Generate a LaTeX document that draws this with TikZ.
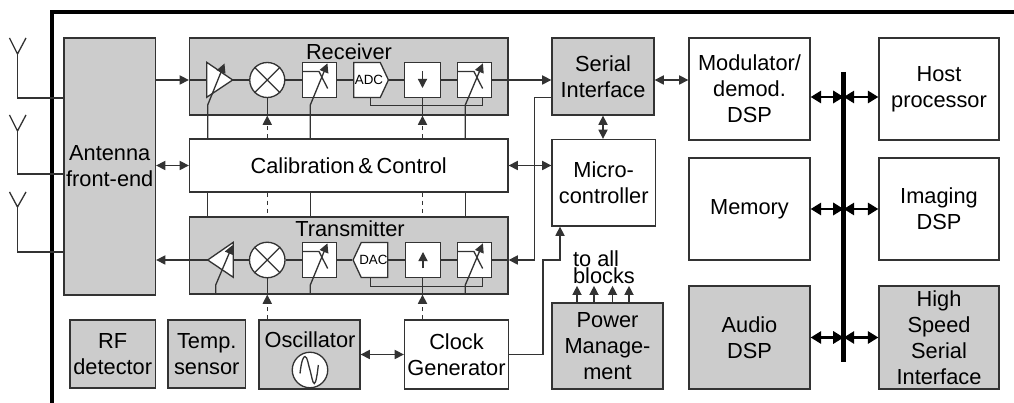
\documentclass[tikz,border=0pt]{standalone}
\usepackage{fontspec}
\setmainfont{Liberation Sans}
\usetikzlibrary{arrows.meta,shapes.symbols}
\definecolor{blockgray}{HTML}{CCCCCC}
\tikzset{
  block/.style={draw=black!80, line width=0.75pt, fill=white, inner sep=0pt, align=center, font=\fontsize{12.4}{14.8}\selectfont},
  grayblock/.style={block, fill=blockgray},
  part/.style={draw=black!80, line width=0.75pt, fill=white, inner sep=0pt},
  adcbox/.style={part, signal, signal pointer angle=130, minimum width=0.694cm, minimum height=0.70cm},
  adctext/.style={inner sep=0pt, font=\fontsize{7.6}{9}\selectfont},
  blocklabel/.style={inner sep=0pt, align=center, font=\fontsize{12.4}{14.8}\selectfont},
  wire/.style={draw=black!80, line width=0.75pt},
  sig/.style={wire, -{Triangle[length=5.2pt,width=5.2pt]}},
  bothsig/.style={wire, {Triangle[length=5.2pt,width=5.2pt]}-{Triangle[length=5.2pt,width=5.2pt]}},
  clkline/.style={wire, dash pattern=on 2.6pt off 2pt},
  busarrow/.style={draw=black, line width=1.3pt, {Triangle[length=6pt,width=7pt]}-{Triangle[length=6pt,width=7pt]}}
}
\begin{document}
\begin{tikzpicture}
  \useasboundingbox (0,0) rectangle (20.28,8.06);
  % chip outline
  \draw[black, line width=1.8pt] (1.04,0) -- (1.04,7.82) -- (20.28,7.82);
  % large blocks
  \node[grayblock, minimum width=1.83cm, minimum height=5.14cm] (ant) at (2.195,4.73) {Antenna\\front-end};
  \node[grayblock, minimum width=6.37cm, minimum height=1.54cm] (rx) at (6.975,6.53) {};
  \node[blocklabel] (rxlabel) at (6.98,7.03) {Receiver};
  \node[block, minimum width=6.37cm, minimum height=1.06cm] (cal) at (6.975,4.75) {Calibration\,\&\,Control};
  \node[grayblock, minimum width=6.37cm, minimum height=1.54cm] (tx) at (6.975,2.95) {};
  \node[blocklabel] (txlabel) at (7.0,3.48) {Transmitter};
  \node[grayblock, minimum width=2.04cm, minimum height=1.54cm] (ser) at (12.06,6.53) {Serial\\Interface};
  \node[block, minimum width=2.07cm, minimum height=1.73cm] (mcu) at (12.075,4.405) {Micro-\\controller};
  \node[block, minimum width=2.42cm, minimum height=2.04cm] (mod) at (14.99,6.28) {Modulator/\\demod.\\DSP};
  \node[block, minimum width=2.42cm, minimum height=2.04cm] (mem) at (14.99,3.88) {Memory};
  \node[grayblock, minimum width=2.42cm, minimum height=2.06cm] (aud) at (14.99,1.31) {Audio\\DSP};
  \node[block, minimum width=2.40cm, minimum height=2.04cm] (host) at (18.78,6.28) {Host\\processor};
  \node[block, minimum width=2.40cm, minimum height=2.04cm] (img) at (18.78,3.88) {Imaging\\DSP};
  \node[grayblock, minimum width=2.40cm, minimum height=2.06cm] (hss) at (18.78,1.31) {High\\Speed\\Serial\\Interface};
  % bottom row
  \node[grayblock, minimum width=1.71cm, minimum height=1.36cm] (rf) at (2.255,0.98) {RF\\detector};
  \node[grayblock, minimum width=1.55cm, minimum height=1.36cm] (tmp) at (4.135,0.98) {Temp.\\sensor};
  \node[grayblock, minimum width=2.02cm, minimum height=1.38cm] (osc) at (6.19,0.97) {};
  \node[blocklabel] (osclabel) at (6.2,1.26) {Oscillator};
  \node[part, circle, minimum size=0.71cm] (sine) at (6.2,0.66) {};
  \begin{scope}[shift={(sine)}]
    \draw[wire] (-0.2,-0.07) .. controls (-0.17,0.2) and (-0.13,0.27) .. (-0.1,0.27) .. controls (-0.05,0.27) and (-0.03,0.08) .. (0,0) .. controls (0.03,-0.1) and (0.05,-0.27) .. (0.087,-0.27) .. controls (0.12,-0.27) and (0.15,-0.05) .. (0.167,0.1);
  \end{scope}
  \node[block, minimum width=2.08cm, minimum height=1.38cm] (clk) at (9.13,0.97) {Clock\\Generator};
  \node[grayblock, minimum width=2.22cm, minimum height=1.72cm] (pwr) at (12.15,1.14) {Power\\Manage-\\ment};
  \node[blocklabel, anchor=south west, align=left, font=\fontsize{12.4}{9.7}\selectfont] (toall) at (11.454,2.38) {to all\\blocks};
  % antennas
  \coordinate (aa) at (0.35,6.98);
  \coordinate (ab) at (0.35,5.44);
  \coordinate (ac) at (0.35,3.92);
  \draw[wire] (0.19,7.30) -- (aa) -- (0.52,7.30);
  \draw[wire] (aa) |- (ant.west |- 0,6.10);
  \draw[wire] (0.19,5.76) -- (ab) -- (0.52,5.76);
  \draw[wire] (ab) |- (ant.west |- 0,4.58);
  \draw[wire] (0.19,4.22) -- (ac) -- (0.52,4.22);
  \draw[wire] (ac) |- (ant.west |- 0,3.02);
  % receiver chain
  \coordinate (lnain) at (4.134,6.46);
  \coordinate (lnaout) at (4.654,6.46);
  \draw[part] (4.134,6.814) -- (4.134,6.114) -- (lnaout) -- cycle;
  \node[part, circle, minimum size=0.70cm] (mixr) at (5.345,6.46) {};
  \draw[wire] (mixr.north west) -- (mixr.south east);
  \draw[wire] (mixr.north east) -- (mixr.south west);
  \node[part, minimum width=0.68cm, minimum height=0.70cm] (fa) at (6.386,6.46) {};
  \node[adcbox] (adc) at (7.34,6.46) {};
  \node[adctext] (adclabel) at (7.38,6.46) {ADC};
  \node[part, minimum width=0.71cm, minimum height=0.70cm] (dcm) at (8.45,6.46) {};
  \node[part, minimum width=0.69cm, minimum height=0.70cm] (fb) at (9.49,6.46) {};
  \draw[wire] (fa) ++(-0.34,0.17) -- ++(0.334,0) -- ++(0.174,-0.34);
  \draw[wire] (fb) ++(-0.345,0.17) -- ++(0.334,0) -- ++(0.174,-0.34);
  \draw[sig] ([yshift=0.17cm]dcm.center) -- ([yshift=-0.16cm]dcm.center);
  \draw[sig] (ant.east |- lnain) -- (rx.west |- lnain);
  \draw[wire] (rx.west |- lnain) -- (lnain);
  \draw[wire] (lnaout) -- (mixr);
  \draw[wire] (mixr) -- (fa);
  \draw[wire] (fa) -- (adc);
  \draw[wire] (adc) -- (dcm);
  \draw[wire] (dcm) -- (fb);
  \draw[sig] (fb) -- (fb -| ser.west);
  \coordinate (brka) at (9.646,5.946);
  \draw[wire] ([xshift=0.074cm]adc.south) |- (brka) -- (brka |- fb.south);
  % transmitter chain
  \coordinate (paout) at (4.666,2.86);
  \coordinate (pain) at (4.154,2.86);
  \draw[part] (pain) -- (4.666,3.214) -- (4.666,2.514) -- cycle;
  \node[part, circle, minimum size=0.71cm] (mixt) at (5.345,2.86) {};
  \draw[wire] (mixt.north west) -- (mixt.south east);
  \draw[wire] (mixt.north east) -- (mixt.south west);
  \node[part, minimum width=0.68cm, minimum height=0.70cm] (fc) at (6.386,2.86) {};
  \node[adcbox, signal to=west, signal from=nowhere] (dac) at (7.49,2.86) {};
  \node[adctext] (daclabel) at (7.468,2.86) {DAC};
  \node[part, minimum width=0.69cm, minimum height=0.70cm] (itp) at (8.46,2.86) {};
  \node[part, minimum width=0.69cm, minimum height=0.70cm] (fd) at (9.49,2.86) {};
  \draw[wire] (fc) ++(-0.34,0.17) -- ++(0.334,0) -- ++(0.174,-0.34);
  \draw[wire] (fd) ++(-0.345,0.17) -- ++(0.334,0) -- ++(0.174,-0.34);
  \draw[sig] ([yshift=-0.17cm]itp.center) -- ([yshift=0.16cm]itp.center);
  \draw[sig] (tx.west |- pain) -- (ant.east |- pain);
  \draw[wire] (pain) -- (tx.west |- pain);
  \draw[wire] (paout) -- (mixt);
  \draw[wire] (mixt) -- (fc);
  \draw[wire] (fc) -- (dac);
  \draw[wire] (dac) -- (itp);
  \draw[wire] (itp) -- (fd);
  \draw[wire] (fd) -- (tx.east |- fd);
  \coordinate (brkb) at (9.646,2.326);
  \draw[wire] ([xshift=-0.076cm]dac.south) |- (brkb) -- (brkb |- fd.south);
  % gain controls, receiver side
  \coordinate (lnakink) at (4.154,5.96);
  \coordinate (fakink) at (6.206,5.96);
  \coordinate (fbkink) at (9.306,5.96);
  \draw[sig] (cal.north -| lnakink) -- (lnakink) -- (4.49,6.79);
  \draw[sig] (cal.north -| fakink) -- (fakink) -- ([xshift=-0.19cm,yshift=-0.03cm]fa.north east);
  \draw[sig] (cal.north -| fbkink) -- (fbkink) -- ([xshift=-0.19cm,yshift=-0.03cm]fb.north east);
  % gain controls, transmitter side
  \coordinate (pakink) at (4.314,2.36);
  \coordinate (fckink) at (6.206,2.36);
  \coordinate (fdkink) at (9.306,2.36);
  \draw[sig] (tx.south -| pakink) -- (pakink) -- (4.654,3.16);
  \draw[sig] (tx.south -| fckink) -- (fckink) -- ([xshift=-0.19cm,yshift=-0.03cm]fc.north east);
  \draw[sig] (tx.south -| fdkink) -- (fdkink) -- ([xshift=-0.19cm,yshift=-0.03cm]fd.north east);
  % between calibration and transmitter
  \draw[wire] (cal.south -| lnakink) -- (tx.north -| lnakink);
  \draw[wire] (cal.south -| fakink) -- (tx.north -| fakink);
  \draw[wire] (cal.south -| fbkink) -- (tx.north -| fbkink);
  \draw[clkline] (cal.south -| mixr) -- (tx.north -| mixr);
  \draw[clkline] (cal.south -| dcm) -- (tx.north -| dcm);
  % clock lines
  \draw[wire] (mixr) -- (rx.south -| mixr);
  \draw[wire] (dcm) -- (rx.south -| dcm);
  \draw[clkline, -{Triangle[length=5.2pt,width=5.2pt]}] (cal.north -| mixr) -- (rx.south -| mixr);
  \draw[clkline, -{Triangle[length=5.2pt,width=5.2pt]}] (cal.north -| dcm) -- (rx.south -| dcm);
  \draw[wire] (mixt) -- (tx.south -| mixt);
  \draw[wire] (itp.south -| dcm) -- (tx.south -| dcm);
  \draw[clkline, -{Triangle[length=5.2pt,width=5.2pt]}] (osc.north -| mixt) -- (tx.south -| mixt);
  \draw[clkline, -{Triangle[length=5.2pt,width=5.2pt]}] (clk.north -| dcm) -- (tx.south -| dcm);
  % control and data links
  \draw[bothsig] (ant.east |- cal) -- (cal.west);
  \draw[bothsig] (cal.east) -- (cal.east -| mcu.west);
  \draw[bothsig] (ser.south) -- (ser.south |- mcu.north);
  \draw[bothsig] (ser.east |- fb) -- (fb -| mod.west);
  \draw[bothsig] (osc.east) -- (clk.west);
  \coordinate (serout) at (11.04,6.106);
  \coordinate (serdown) at (10.694,2.86);
  \draw[sig] (serout) -| (serdown) -- (tx.east |- serdown);
  \coordinate (clkbend) at (10.86,2.86);
  \draw[sig] (clk.east) -| (clkbend) -| ([xshift=-0.875cm]mcu.south);
  % power outputs
  \draw[sig] ([xshift=-0.61cm]pwr.north) -- ++(0,0.33);
  \draw[sig] ([xshift=-0.27cm]pwr.north) -- ++(0,0.33);
  \draw[sig] ([xshift=0.10cm]pwr.north) -- ++(0,0.33);
  \draw[sig] ([xshift=0.43cm]pwr.north) -- ++(0,0.33);
  % system bus
  \coordinate (bustop) at (16.874,6.62);
  \coordinate (busbot) at (16.874,0.82);
  \coordinate (busa) at (16.874,6.12);
  \draw[black, line width=2.6pt] (bustop) -- (busbot);
  \draw[busarrow] (mod.east |- busa) -- (busa);
  \draw[busarrow] (busa) -- (host.west |- busa);
  \draw[busarrow] (mem.east) -- (mem -| bustop);
  \draw[busarrow] (mem -| bustop) -- (img.west);
  \draw[busarrow] (aud.east) -- (aud -| bustop);
  \draw[busarrow] (aud -| bustop) -- (hss.west);
\end{tikzpicture}
\end{document}
